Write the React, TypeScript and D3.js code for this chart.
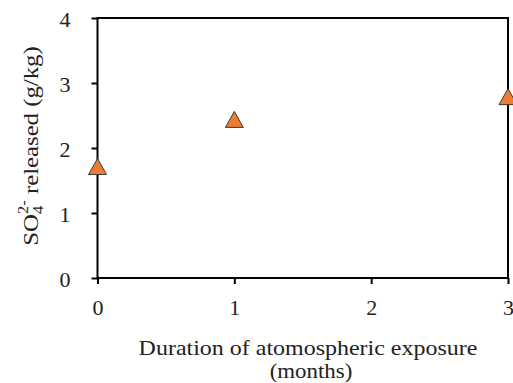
import React, { useEffect, useRef } from 'react';
import * as d3 from 'd3';

// exposure duration (months) and sulphate released (g/kg)
const months = [0, 1, 3];
const so4Released = [1.715, 2.44, 2.79];
const xTicks = [0, 1, 2, 3];
const yTicks = [0, 1, 2, 3, 4];

const W = 513;
const H = 383;
const FONT = 'Liberation Serif, Times New Roman, serif';

export default function App() {
  const svgRef = useRef<SVGSVGElement>(null);

  useEffect(() => {
    if (!svgRef.current) return;
    const svg = d3.select(svgRef.current);
    svg.selectAll('*').remove();

    const margin = { top: 18, right: 5, bottom: 105, left: 97.5 };
    const x = d3.scaleLinear().domain([0, 3]).range([margin.left, W - margin.right]);
    const y = d3.scaleLinear().domain([0, 4]).range([H - margin.bottom, margin.top]);

    // plot frame
    svg
      .append('rect')
      .attr('x', x(0))
      .attr('y', y(4))
      .attr('width', x(3) - x(0))
      .attr('height', y(0) - y(4))
      .attr('fill', 'none')
      .attr('stroke', '#000')
      .attr('stroke-width', 2);

    // y axis
    const yAxis = svg
      .append('g')
      .attr('transform', `translate(${x(0)},0)`)
      .call(d3.axisLeft(y).tickValues(yTicks).tickSize(6).tickPadding(21).tickFormat(d3.format('d')));
    yAxis.attr('font-family', FONT).attr('font-size', 22);
    yAxis.select('.domain').remove();
    yAxis.selectAll('line').attr('stroke', '#000').attr('stroke-width', 2);
    yAxis.selectAll('text').attr('fill', '#222').attr('dy', '0.38em');

    // x axis
    const xAxis = svg
      .append('g')
      .attr('transform', `translate(0,${y(0)})`)
      .call(d3.axisBottom(x).tickValues(xTicks).tickSize(6).tickPadding(15).tickFormat(d3.format('d')));
    xAxis.attr('font-family', FONT).attr('font-size', 22);
    xAxis.select('.domain').remove();
    xAxis.selectAll('line').attr('stroke', '#000').attr('stroke-width', 2);
    xAxis.selectAll('text').attr('fill', '#222');

    // triangle markers, centred on their bounding box like Excel's
    const tw = 18;
    const th = 16;
    const triangle = () => {
      const p = d3.path();
      p.moveTo(0, -th / 2);
      p.lineTo(tw / 2, th / 2);
      p.lineTo(-tw / 2, th / 2);
      p.closePath();
      return p.toString();
    };
    svg
      .append('g')
      .selectAll('path')
      .data(months.map((m, i) => ({ m, v: so4Released[i] })))
      .enter()
      .append('path')
      .attr('d', triangle)
      .attr('transform', (d) => `translate(${x(d.m)},${y(d.v)})`)
      .attr('fill', '#ED7D31')
      .attr('stroke', '#3a3a3a')
      .attr('stroke-width', 1);

    // x title
    const xt = svg
      .append('g')
      .attr('font-family', FONT)
      .attr('font-size', 22)
      .attr('fill', '#222')
      .attr('text-anchor', 'middle');
    xt.append('text')
      .attr('transform', 'translate(308,355) scale(1.09,1)')
      .text('Duration  of atomospheric exposure');
    xt.append('text')
      .attr('transform', 'translate(311,378) scale(1.04,1)')
      .text('(months)');

    // y title
    const yt = svg
      .append('text')
      .attr('transform', `translate(38,146) rotate(-90) scale(1.18,1)`)
      .attr('text-anchor', 'middle')
      .attr('font-family', FONT)
      .attr('font-size', 21)
      .attr('fill', '#222');
    yt.append('tspan').text('SO');
    yt.append('tspan').attr('font-size', 14).attr('dy', 5).text('4');
    yt.append('tspan').attr('font-size', 14).attr('dx', -7).attr('dy', -15).text('2-');
    yt.append('tspan').attr('dy', 10).text(' released (g/kg)');
  }, []);

  return (
    <svg
      ref={svgRef}
      width={W}
      height={H}
      style={{ position: 'absolute', left: 0, top: 0, background: '#fff' }}
    />
  );
}
